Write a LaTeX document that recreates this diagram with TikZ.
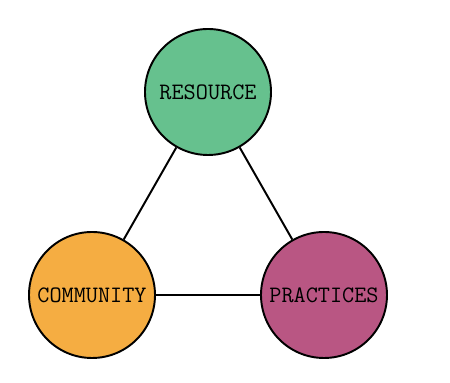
\documentclass[tikz,border=0pt]{standalone}
\usepackage{tikz}
\usetikzlibrary{positioning}
\definecolor{resgreen}{HTML}{66C18E}
\definecolor{comorange}{HTML}{F5AD42}
\definecolor{pracpink}{HTML}{B95683}
\tikzset{every path/.style={black,line width=1.1pt}, blob/.style={circle, draw, minimum size=2.52cm, inner sep=0pt, font=\ttfamily\fontsize{13.4}{14}\selectfont}}

\begin{document}
\begin{tikzpicture}
   \useasboundingbox (0,0) rectangle (9,-7.66);
   \begin{scope}
    \node[blob,fill=resgreen] (res) at (4.16,-1.84) {RESOURCE};
    \node[blob,fill=comorange] (com) at (1.84,-5.9) {COMMUNITY};
    \node[blob,fill=pracpink] (prac) at (6.48,-5.9) {PRACTICES};
   \end{scope}
   \begin{scope}
    \draw (res) -- (com);
    \draw (res) -- (prac);
    \draw (com) -- (prac);
   \end{scope}
\end{tikzpicture}
\end{document}
